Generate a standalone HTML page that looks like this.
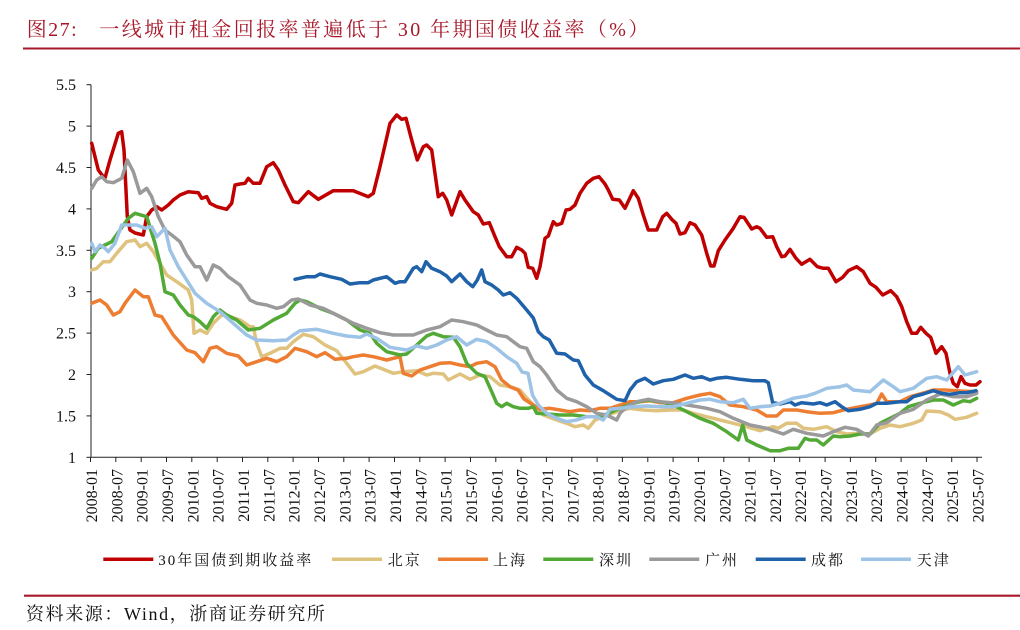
<!DOCTYPE html>
<html>
<head>
<meta charset="utf-8">
<style>
  html,body{margin:0;padding:0;background:#fff;}
  body{width:1020px;height:630px;overflow:hidden;}
  svg{display:block;}
  .ax{font-family:"Liberation Serif","Noto Serif CJK SC",serif;font-size:16px;fill:#111;}
  .lg{font-family:"Liberation Serif","Noto Serif CJK SC",serif;font-size:15px;fill:#111;letter-spacing:2px;}
  .ser{fill:none;stroke-width:3.5;stroke-linejoin:round;stroke-linecap:round;}
</style>
</head>
<body>
<svg width="1020" height="630" viewBox="0 0 1020 630" xmlns="http://www.w3.org/2000/svg">
  <!-- Title -->
  <text x="26.7" y="36" font-family="'Liberation Serif','Noto Serif CJK SC',serif" font-size="20" fill="#a8182a" letter-spacing="1.5">图27:</text>
  <text x="99.3" y="36" font-family="'Liberation Serif','Noto Serif CJK SC',serif" font-size="20" fill="#a8182a" letter-spacing="2.4">一线城市租金回报率普遍低于 30 年期国债收益率（%）</text>
  <line x1="23" y1="48.5" x2="1020" y2="48.5" stroke="#a8182a" stroke-width="2"/>

  <!-- Y axis -->
  <line x1="91" y1="84.7" x2="91" y2="457.3" stroke="#222" stroke-width="1"/>
  <g stroke="#222" stroke-width="1">
    <line x1="86.5" y1="457.3" x2="91" y2="457.3"/>
    <line x1="86.5" y1="415.9" x2="91" y2="415.9"/>
    <line x1="86.5" y1="374.5" x2="91" y2="374.5"/>
    <line x1="86.5" y1="333.1" x2="91" y2="333.1"/>
    <line x1="86.5" y1="291.7" x2="91" y2="291.7"/>
    <line x1="86.5" y1="250.3" x2="91" y2="250.3"/>
    <line x1="86.5" y1="208.9" x2="91" y2="208.9"/>
    <line x1="86.5" y1="167.5" x2="91" y2="167.5"/>
    <line x1="86.5" y1="126.1" x2="91" y2="126.1"/>
    <line x1="86.5" y1="84.7" x2="91" y2="84.7"/>
  </g>
  <g class="ax" text-anchor="end">
    <text x="76" y="462.8">1</text>
    <text x="76" y="421.4">1.5</text>
    <text x="76" y="380">2</text>
    <text x="76" y="338.6">2.5</text>
    <text x="76" y="297.2">3</text>
    <text x="76" y="255.8">3.5</text>
    <text x="76" y="214.4">4</text>
    <text x="76" y="173">4.5</text>
    <text x="76" y="131.6">5</text>
    <text x="76" y="90.2">5.5</text>
  </g>

  <!-- X axis -->
  <line x1="91" y1="457.3" x2="982" y2="457.3" stroke="#222" stroke-width="1"/>
  <g stroke="#222" stroke-width="1">
    <line x1="90.5" y1="457" x2="90.5" y2="462"/><line x1="115.8" y1="457" x2="115.8" y2="462"/>
    <line x1="141.2" y1="457" x2="141.2" y2="462"/><line x1="166.5" y1="457" x2="166.5" y2="462"/>
    <line x1="191.8" y1="457" x2="191.8" y2="462"/><line x1="217.2" y1="457" x2="217.2" y2="462"/>
    <line x1="242.5" y1="457" x2="242.5" y2="462"/><line x1="267.8" y1="457" x2="267.8" y2="462"/>
    <line x1="293.1" y1="457" x2="293.1" y2="462"/><line x1="318.5" y1="457" x2="318.5" y2="462"/>
    <line x1="343.8" y1="457" x2="343.8" y2="462"/><line x1="369.1" y1="457" x2="369.1" y2="462"/>
    <line x1="394.5" y1="457" x2="394.5" y2="462"/><line x1="419.8" y1="457" x2="419.8" y2="462"/>
    <line x1="445.1" y1="457" x2="445.1" y2="462"/><line x1="470.5" y1="457" x2="470.5" y2="462"/>
    <line x1="495.8" y1="457" x2="495.8" y2="462"/><line x1="521.1" y1="457" x2="521.1" y2="462"/>
    <line x1="546.4" y1="457" x2="546.4" y2="462"/><line x1="571.8" y1="457" x2="571.8" y2="462"/>
    <line x1="597.1" y1="457" x2="597.1" y2="462"/><line x1="622.4" y1="457" x2="622.4" y2="462"/>
    <line x1="647.8" y1="457" x2="647.8" y2="462"/><line x1="673.1" y1="457" x2="673.1" y2="462"/>
    <line x1="698.4" y1="457" x2="698.4" y2="462"/><line x1="723.8" y1="457" x2="723.8" y2="462"/>
    <line x1="749.1" y1="457" x2="749.1" y2="462"/><line x1="774.4" y1="457" x2="774.4" y2="462"/>
    <line x1="799.7" y1="457" x2="799.7" y2="462"/><line x1="825.1" y1="457" x2="825.1" y2="462"/>
    <line x1="850.4" y1="457" x2="850.4" y2="462"/><line x1="875.7" y1="457" x2="875.7" y2="462"/>
    <line x1="901.1" y1="457" x2="901.1" y2="462"/><line x1="926.4" y1="457" x2="926.4" y2="462"/>
    <line x1="951.7" y1="457" x2="951.7" y2="462"/><line x1="977" y1="457" x2="977" y2="462"/>
  </g>
  <g class="ax" text-anchor="end">
    <text transform="translate(97,469) rotate(-90)">2008-01</text>
    <text transform="translate(122.3,469) rotate(-90)">2008-07</text>
    <text transform="translate(147.7,469) rotate(-90)">2009-01</text>
    <text transform="translate(173,469) rotate(-90)">2009-07</text>
    <text transform="translate(198.3,469) rotate(-90)">2010-01</text>
    <text transform="translate(223.7,469) rotate(-90)">2010-07</text>
    <text transform="translate(249,469) rotate(-90)">2011-01</text>
    <text transform="translate(274.3,469) rotate(-90)">2011-07</text>
    <text transform="translate(299.6,469) rotate(-90)">2012-01</text>
    <text transform="translate(325,469) rotate(-90)">2012-07</text>
    <text transform="translate(350.3,469) rotate(-90)">2013-01</text>
    <text transform="translate(375.6,469) rotate(-90)">2013-07</text>
    <text transform="translate(401,469) rotate(-90)">2014-01</text>
    <text transform="translate(426.3,469) rotate(-90)">2014-07</text>
    <text transform="translate(451.6,469) rotate(-90)">2015-01</text>
    <text transform="translate(477,469) rotate(-90)">2015-07</text>
    <text transform="translate(502.3,469) rotate(-90)">2016-01</text>
    <text transform="translate(527.6,469) rotate(-90)">2016-07</text>
    <text transform="translate(552.9,469) rotate(-90)">2017-01</text>
    <text transform="translate(578.3,469) rotate(-90)">2017-07</text>
    <text transform="translate(603.6,469) rotate(-90)">2018-01</text>
    <text transform="translate(628.9,469) rotate(-90)">2018-07</text>
    <text transform="translate(654.3,469) rotate(-90)">2019-01</text>
    <text transform="translate(679.6,469) rotate(-90)">2019-07</text>
    <text transform="translate(704.9,469) rotate(-90)">2020-01</text>
    <text transform="translate(730.3,469) rotate(-90)">2020-07</text>
    <text transform="translate(755.6,469) rotate(-90)">2021-01</text>
    <text transform="translate(780.9,469) rotate(-90)">2021-07</text>
    <text transform="translate(806.2,469) rotate(-90)">2022-01</text>
    <text transform="translate(831.6,469) rotate(-90)">2022-07</text>
    <text transform="translate(856.9,469) rotate(-90)">2023-01</text>
    <text transform="translate(882.2,469) rotate(-90)">2023-07</text>
    <text transform="translate(907.6,469) rotate(-90)">2024-01</text>
    <text transform="translate(932.9,469) rotate(-90)">2024-07</text>
    <text transform="translate(958.2,469) rotate(-90)">2025-01</text>
    <text transform="translate(983.5,469) rotate(-90)">2025-07</text>
  </g>

  <!-- Series -->
  <!-- 30Y bond -->
  <polyline class="ser" stroke="#c00000" points="91.7,143.3 95,156.7 98.3,170 103.3,176.7 105,178 110,160 118.3,133.3 121.7,131.7 124,150 127.3,216.7 130,230 135,233 143.3,235 146.7,216.7 151.7,210 156.7,206.7 161.7,210 168.3,205 173.3,200 180,195 188.3,191.7 198.3,192.7 201.7,198.3 206.7,196.7 210,203.3 216.7,206.7 226.7,209.3 231.7,203.3 235,185 240,184 245,183.3 248.3,178.3 253.3,183.3 260,183.3 266.7,166.7 273.3,162.7 278.3,170 285,185 293.3,201.7 298.3,202.7 308.3,191.7 318.3,199.3 333.3,190.7 353.3,190.7 368.3,196.7 373.3,193.3 380,166.7 390,123.3 396.7,115 401.7,119.3 406,118.3 411.7,140 417.3,160 423.3,146.7 426.7,145 431.7,150 438.3,196.7 442.7,193.3 446.7,200 451.7,215 460,191.7 465,200 473.3,211.7 478.3,215 483.3,224 489.3,222.7 495,236.7 499.3,246.7 506.7,256.7 511.7,256.7 516.7,247.3 521.7,250 525,253.3 528.3,267.3 532.7,268.3 536.7,278.3 540,266.7 545,238.3 548.3,236 553.3,221.7 556.7,225 561.7,223.3 566,210 570,209.3 575,205 580,193.3 586.7,183.3 593.3,178.3 599,176.7 605,184 608.3,190 612.7,199.3 619.3,200 625,208.3 633.3,190.7 638.3,198.3 643.3,215 648.3,230 656.7,230 662.7,216.7 666.7,213.3 671.7,219.3 676,223.3 680,234 685,232.7 690,222.7 695,225 701.7,235 706.7,253.3 710.7,266 714,266 718.3,250.7 725,240 733.3,228.3 740,216.7 744,217.3 751.7,229 756.7,226.7 760,228.3 766.7,237.3 772.7,236.7 776.7,246.7 781.7,256.7 785,256 790,249.3 796,258.3 801.7,264.3 810,259.3 817.3,266.7 823.3,268.3 828.3,268.3 836,281.7 842.7,277.3 848.3,270.7 856.7,266.7 863.3,271.7 870,283.3 876,287.3 882.7,295 890.7,290.7 896.7,296.7 901.7,306.7 906.7,321.7 911.7,333.3 916.7,333.3 920.7,327.3 926,333.3 930.7,337.3 936,353.3 941.7,346.7 946,353.3 950,373.3 953.3,383.3 957.3,386.7 961,376.7 965,383.3 970,385 976,385 980,381.7"/>
  <!-- Beijing -->
  <polyline class="ser" stroke="#dfc27d" points="91.7,270 96.7,268.3 103.3,261.7 110,261.7 116.7,253.3 126.7,241.7 135,240 140,246.7 146.7,243.3 153.3,251.7 160,263.3 166.7,275 176.7,281.7 188.3,290 191.7,300 194,333.3 200,330 206.7,333.3 213.3,323.3 221.7,315 230,316.7 240,320 250,326.7 253.3,326.7 256.7,343.3 261.7,356.7 270,353.3 280,348.3 286.7,348.3 293.3,341.7 303.3,334.3 313.3,336.7 325,345 336.7,350.7 346.7,363.3 355,374 363.3,371.7 375,366 383.3,369.3 393.3,373.3 403.3,371.7 416.7,370.7 426.7,375 433.3,373.3 443.3,374 448.3,380 460,374 470,379.3 480,375 490,376.7 500,385 510,386.7 520,390 526.7,398 533.3,405 543.3,415 556.7,420 566.7,423.3 575,426.7 583.3,425 588.3,428.3 595,420 603.3,416.7 616.7,411.7 630,408.3 643.3,410 656.7,410.7 670,410 683.3,410 693.3,413.3 706.7,416.7 720,420 733.3,423.3 746.7,426.7 760,430.7 773.3,426.7 778.3,428.3 786.7,423.3 796.7,423.3 803.3,428.3 813.3,429.3 826.7,426.7 836.7,431.7 846.7,434 860,433.3 870,434 880,428.3 890,425 900,426.7 913.3,423.3 921.7,420 926.7,411 940,411.7 948.3,415 955,419.3 966.7,417.3 976.7,413.3"/>
  <!-- Shanghai -->
  <polyline class="ser" stroke="#ed7d31" points="91.7,303.3 100,300 106.7,305 113.3,315 120,311.7 125,303.3 135,290 143.3,296.7 148.3,296.7 155,315 161.7,316.7 173.3,335 186.7,350 195,352.7 203.3,361.7 210,348.3 216.7,346.7 226.7,353.3 238.3,356 246.7,365 256.7,361.7 266.7,358.3 276.7,361.7 286.7,356.7 295,348.3 306.7,351.7 316.7,356.7 325,352.7 335,359.3 346.7,358.3 353.3,356.7 363.3,355 373.3,356.7 386.7,360 400,356.7 403.3,373.3 411.7,376 420,370 430,366.7 440,363.3 450,362.7 460,365 470,366.7 476.7,363.3 486.7,361.7 495,366.7 501.7,380 510,386.7 518,390 524,399 533.3,405 540,409.3 550,408.3 560,410 570,411.7 580,410 590,410.7 600,408.3 610,408.3 620,405 630,401.7 640,401.7 650,400.7 660,402.7 673.3,402.7 686.7,398.3 700,395 710,393.3 720,396.7 730,405 743.3,406.7 756.7,410 766.7,416 776.7,416 783.3,410 796.7,410 806.7,411.7 820,413.3 833.3,412.7 843.3,410 856.7,407.3 870,405 876.7,403.3 881.7,394 886.7,401.7 900,401.7 910,396.7 920,394 933.3,390 945,390 960,391 976.7,391.7"/>
  <!-- Shenzhen -->
  <polyline class="ser" stroke="#52a935" points="91.7,258.3 98.3,248.3 105,245 111.7,241.7 120,230 128.3,218.3 135,213.3 146.7,216.7 155,243.3 160,263.3 165,291.7 173.3,295 180,305 188.3,315 193.3,316.7 200,321.7 206.7,328.3 213.3,316.7 220,310 226.7,315 236.7,320 248.3,330 260,328.3 273.3,320 286.7,313.3 295,303.3 300,300 306.7,301.7 320,308.3 333.3,313.3 346.7,320 360,330 370,333.3 376.7,343.3 386.7,351.7 400,355 406.7,354 416.7,345 426.7,336 433.3,333.3 443.3,336.7 453.3,337.3 460,346.7 466.7,363.3 476.7,373.3 485,376.7 491.7,391.7 496.7,403.3 501.7,406.7 506.7,403.3 513.3,406.7 520,408.3 528.3,408.3 533.3,406.7 536.7,413.3 546.7,414 560,415 573.3,415 586.7,416.7 600,416.7 610,412.7 620,408.3 633.3,403.3 646.7,400 660,401.7 673.3,405 686.7,411.7 700,418.3 713.3,423.3 726.7,431.7 738.3,440 742.7,425 746.7,440 756.7,445 770,450.7 780,450.7 788.3,448.3 798.3,448.3 805,438.3 810,440 816.7,440 823.3,445 833.3,436 840,436.7 850,436 860,434 870,434 880,423.3 890,418.3 900,413.3 908.3,406.7 920,403.3 933.3,400 943.3,400 953.3,405 963.3,400.7 970,401.7 976.7,398.3"/>
  <!-- Guangzhou -->
  <polyline class="ser" stroke="#9a9a9a" points="91.7,188.3 96.7,180 101.7,176.7 106.7,181.7 113.3,182.7 121.7,178.3 127.3,160 133.3,171.7 140,193.3 146.7,188.3 151.7,196.7 158.3,216.7 165,230 171.7,235 180,241.7 186.7,255 195,266.7 200,266.7 206.7,280 213.3,265 220,268.3 228.3,276.7 240,285 250,300 256.7,303.3 266.7,305 276.7,308.3 283.3,306.7 291.7,300 298.3,299 310,305 323.3,308.3 336.7,315 353.3,323.3 366.7,328.3 380,332.7 393.3,335 413.3,335 426.7,330 440,326.7 451.7,320 463.3,321.7 476.7,325 486.7,330 496.7,335 506.7,336.7 513.3,341.7 520,346.7 526.7,348.3 533.3,361.7 540,366.7 546.7,375 556.7,390 566.7,398.3 576.7,401.7 586.7,406.7 596.7,413.3 606.7,415 616.7,420 620,413.3 626.7,406.7 636.7,401.7 648.3,399.3 660,401.7 676.7,403.3 693.3,406 706.7,408.3 720,411.7 733.3,418.3 750,425 766.7,428.3 783.3,434 793.3,429.3 806.7,433.3 823.3,436 833.3,431.7 845,427.3 856.7,429.3 868.3,436 876.7,425 886.7,422.7 900,413.3 913.3,409.3 926.7,400 940,394 953.3,396.7 966.7,396.7 976.7,393.3"/>
  <!-- Chengdu -->
  <polyline class="ser" stroke="#1f62a9" points="295,279.3 306.7,276.7 315,276.7 320,274 330,276.7 341.7,279.3 350,284 360,282.7 368.3,282.7 373.3,280 386.7,276.7 395,283.3 400,281.7 405,281.7 413.3,268.3 416.7,266.7 421.7,271.7 426,261.7 431.7,268.3 440,271.7 446.7,276 451.7,281.7 460,274 466.7,281.7 472.7,286.7 477.3,280 481.7,270 485,281.7 491.7,285 498.3,290 503.3,295 510,292.7 516.7,298.3 526.7,310 533.3,318 538.3,331.7 543.3,336.7 549.3,340 556.7,353.3 565,354 573.3,360 578.3,360.7 585,375 593.3,385 603.3,390.7 610,395 616.7,399.3 625,400.7 630,390 636.7,381.7 645,378.3 653.3,384 663.3,380.7 673.3,379.3 685,375 693.3,378.3 701.7,376.7 710,380 716.7,378.3 726.7,377.3 740,379.3 753.3,380.7 765,380.7 768.3,382.7 772.7,402.7 780,404 790,401.7 795,405 801.7,402.7 813.3,404 820,402.7 826.7,405 835,401.7 841.7,406.7 848.3,410.7 860,409.3 870,406.7 876.7,403.3 886.7,403.3 900,401.7 906.7,401.7 913.3,396.7 923.3,394 933.3,390.7 941.7,393.3 950,394.3 960,392.7 966.7,392.7 976,390.7"/>
  <!-- Tianjin -->
  <polyline class="ser" stroke="#9dc3e6" points="91.7,243.3 95,251.7 100,245 105,248.3 108.3,251.7 115,243.3 121.7,225 128.3,225 136.7,225 145,228.3 151.7,226.7 156.7,236.7 165,228.3 170,250 178.3,266.7 186.7,280 195,293.3 206.7,303.3 220,311.7 233.3,323.3 246.7,335 256.7,340 273.3,340.7 286.7,340 293.3,335 300,330.7 316.7,329.3 333.3,333.3 346.7,336 360,337.3 366.7,334 376.7,338.3 390,347.3 406.7,350 416.7,346 426.7,348.3 436.7,345 446.7,340 456.7,336.7 466.7,345 476.7,339.3 486.7,341.7 496.7,348.3 506.7,356.7 516.7,363.3 522,372 528,373.3 532.5,395 538.3,405 546.7,413.3 556.7,418.3 566.7,421.7 576.7,420 586.7,416.7 596.7,416.7 603.3,420 610,409.3 620,408.3 633.3,406.7 646.7,406 660,406.7 673.3,406.7 686.7,403.3 700,400 710,399.3 720,401.7 733.3,402.7 743.3,399.3 750,408.3 760,406.7 770,406 780,403.3 793.3,398.3 806.7,396 815,393.3 826.7,388.3 840,386.7 846.7,385 853.3,390 870,391.7 883.3,380 893.3,386.7 900,391.7 913.3,388.3 926.7,378.3 936.7,376.7 946.7,380 958.3,366.7 965,375 976.7,371.7"/>

  <!-- Legend -->
  <line x1="103.3" y1="559.3" x2="153.3" y2="559.3" stroke="#c00000" stroke-width="3.5"/>
  <text class="lg" x="158.3" y="565">30年国债到期收益率</text>
  <line x1="332" y1="559.3" x2="382" y2="559.3" stroke="#dfc27d" stroke-width="3.5"/>
  <text class="lg" x="387.7" y="565">北京</text>
  <line x1="438" y1="559.3" x2="488" y2="559.3" stroke="#ed7d31" stroke-width="3.5"/>
  <text class="lg" x="493" y="565">上海</text>
  <line x1="543.3" y1="559.3" x2="593.3" y2="559.3" stroke="#52a935" stroke-width="3.5"/>
  <text class="lg" x="599" y="565">深圳</text>
  <line x1="649.3" y1="559.3" x2="699.3" y2="559.3" stroke="#9a9a9a" stroke-width="3.5"/>
  <text class="lg" x="705" y="565">广州</text>
  <line x1="755.7" y1="559.3" x2="805.7" y2="559.3" stroke="#1f62a9" stroke-width="3.5"/>
  <text class="lg" x="811" y="565">成都</text>
  <line x1="861" y1="559.3" x2="911" y2="559.3" stroke="#9dc3e6" stroke-width="3.5"/>
  <text class="lg" x="916.7" y="565">天津</text>

  <!-- Bottom rule and source -->
  <line x1="24" y1="595.7" x2="1020" y2="595.7" stroke="#a8182a" stroke-width="2.2"/>
  <text x="26" y="620" font-family="'Liberation Serif','Noto Serif CJK SC',serif" font-size="18" fill="#111" letter-spacing="1.6">资料来源：Wind，浙商证券研究所</text>
</svg>
</body>
</html>
